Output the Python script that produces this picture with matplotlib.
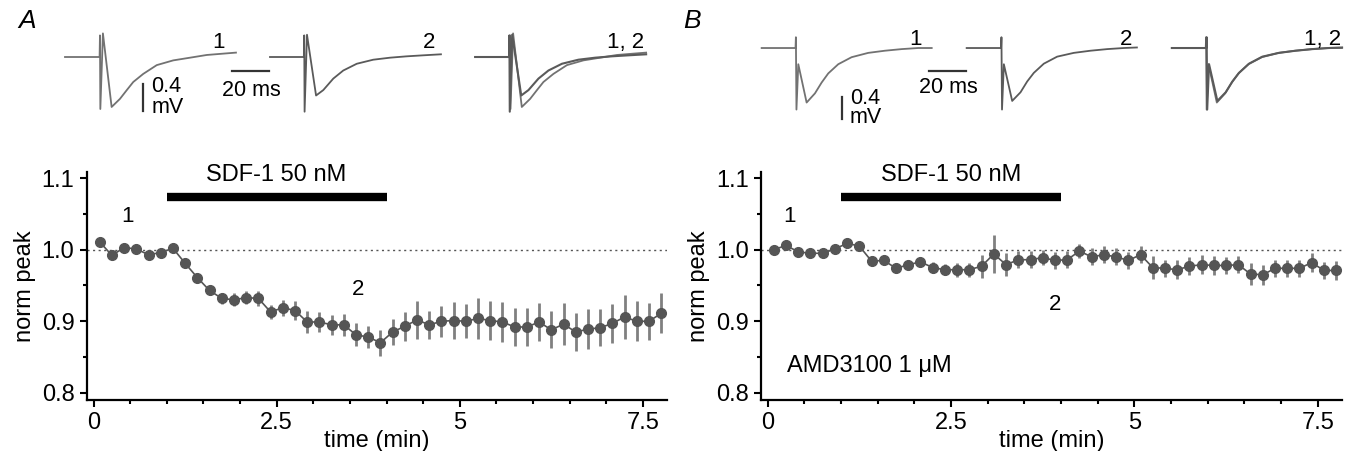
import numpy as np
import matplotlib.pyplot as plt

plt.rcParams['font.family'] = ['Liberation Sans', 'DejaVu Sans']

# time points (min), one sweep every 10 s
time_min = [(5 + 10 * i) / 60 for i in range(47)]

# panel A: SDF-1 alone
peak_a = [1.011, 0.992, 1.003, 1.001, 0.993, 0.996, 1.002, 0.981, 0.961, 0.943,
          0.932, 0.930, 0.933, 0.932, 0.913, 0.919, 0.915, 0.899, 0.899, 0.895,
          0.895, 0.881, 0.878, 0.870, 0.885, 0.893, 0.902, 0.895, 0.900, 0.901,
          0.900, 0.904, 0.901, 0.899, 0.892, 0.892, 0.899, 0.888, 0.896, 0.885,
          0.889, 0.891, 0.897, 0.906, 0.900, 0.900, 0.911]
err_a = [0.003, 0.003, 0.003, 0.003, 0.003, 0.003, 0.003, 0.004, 0.005, 0.006,
         0.008, 0.009, 0.009, 0.010, 0.010, 0.011, 0.013, 0.015, 0.014, 0.014,
         0.015, 0.016, 0.016, 0.018, 0.018, 0.020, 0.027, 0.020, 0.022, 0.026,
         0.024, 0.029, 0.027, 0.028, 0.027, 0.027, 0.027, 0.026, 0.029, 0.026,
         0.028, 0.026, 0.027, 0.031, 0.028, 0.026, 0.028]

# panel B: SDF-1 in AMD3100
peak_b = [1.000, 1.006, 0.997, 0.995, 0.995, 1.001, 1.009, 1.005, 0.984, 0.985,
          0.974, 0.979, 0.983, 0.975, 0.972, 0.972, 0.972, 0.977, 0.994, 0.979,
          0.986, 0.986, 0.989, 0.985, 0.986, 0.998, 0.990, 0.993, 0.990, 0.985,
          0.993, 0.975, 0.974, 0.972, 0.977, 0.979, 0.978, 0.978, 0.979, 0.966,
          0.965, 0.974, 0.974, 0.974, 0.982, 0.971, 0.971]
err_b = [0.003, 0.003, 0.003, 0.003, 0.003, 0.003, 0.003, 0.003, 0.006, 0.006,
         0.005, 0.006, 0.006, 0.008, 0.008, 0.010, 0.010, 0.016, 0.026, 0.016,
         0.012, 0.012, 0.011, 0.012, 0.012, 0.010, 0.012, 0.012, 0.012, 0.012,
         0.012, 0.016, 0.012, 0.013, 0.013, 0.013, 0.013, 0.012, 0.012, 0.015,
         0.014, 0.012, 0.012, 0.012, 0.013, 0.012, 0.013]

# example EPSP traces (ms, mV), key points
trace_a1_t = [0, 18.7, 18.9, 19.1, 20.5, 25.2, 29.7, 33.4, 36.9, 42.3, 49.6,
              58.5, 67.6, 76.6, 85.6, 92.4]
trace_a1_v = [0, 0, 0.32, -0.77, 0.35, -0.74, -0.62, -0.49, -0.37, -0.25, -0.12,
              -0.05, -0.01, 0.03, 0.05, 0.065]
trace_a2_t = [0, 18.3, 18.5, 18.7, 20.0, 24.9, 28.8, 34.2, 39.6, 46.9, 55.8,
              64.9, 73.9, 82.9, 92.4]
trace_a2_v = [0, 0, 0.32, -0.81, 0.33, -0.57, -0.49, -0.32, -0.20, -0.10, -0.04,
              -0.01, 0.01, 0.025, 0.04]
trace_b1_t = [0, 18.3, 18.5, 18.8, 19.8, 24.3, 28.8, 32.4, 36.0, 41.4, 48.6,
              57.6, 66.6, 75.7, 84.6, 91.9]
trace_b1_v = [0, 0, 0.2, -1.14, -0.30, -1.01, -0.84, -0.64, -0.47, -0.30, -0.17,
              -0.09, -0.05, -0.02, 0.0, 0.0]
trace_b2_t = [0, 18.6, 18.8, 19.1, 20.1, 24.6, 29.1, 32.7, 36.3, 41.7, 48.9,
              57.9, 66.9, 76.0, 84.9, 92.0]
trace_b2_v = [0, 0, 0.2, -1.14, -0.30, -0.98, -0.82, -0.62, -0.46, -0.29, -0.16,
              -0.09, -0.05, -0.02, 0.0, 0.01]

bar_start, bar_end = 1.0, 4.0
fs = 17

fig = plt.figure(figsize=(13.53, 4.51), dpi=100)


def time_course(ax, peak, err, lab1, lab2):
    ax.axhline(1.0, color='#555555', ls=(0, (1.5, 2.5)), lw=1)
    ax.errorbar(time_min, peak, yerr=err, fmt='-o', color='#555555', ms=7,
                lw=1.2, ecolor='#808080', elinewidth=2, capsize=0, zorder=3)
    ax.plot([bar_start, bar_end], [1.074, 1.074], color='black', lw=6,
            solid_capstyle='butt')
    ax.text((bar_start + bar_end) / 2, 1.104, 'SDF-1 50 nM', ha='center', va='center', fontsize=fs)
    ax.text(lab1[0], lab1[1], '1', ha='center', va='center', fontsize=fs - 1)
    ax.text(lab2[0], lab2[1], '2', ha='center', va='center', fontsize=fs - 1)
    ax.set_xlim(-0.09, 7.83)
    ax.set_ylim(0.79, 1.109)
    ax.set_xticks([0, 2.5, 5, 7.5])
    ax.set_xticklabels(['0', '2.5', '5', '7.5'])
    ax.set_xticks(np.arange(0.5, 7.6, 0.5), minor=True)
    ax.set_yticks([0.8, 0.9, 1.0, 1.1])
    ax.set_yticks([0.85, 0.95, 1.05], minor=True)
    for s in ['top', 'right']:
        ax.spines[s].set_visible(False)
    for s in ['left', 'bottom']:
        ax.spines[s].set_linewidth(1.6)
    ax.tick_params(which='major', length=5, width=1.5, labelsize=fs, pad=4)
    ax.tick_params(which='minor', length=3, width=1.5)
    ax.set_xlabel('time (min)', fontsize=fs, labelpad=-3)
    ax.set_ylabel('norm peak', fontsize=fs, labelpad=4)


def trace_panel(ax, t1, v1, t2, v2, lab_v):
    c1, c2 = '#727272', '#5a5a5a'
    ax.plot(t1, v1, color=c1, lw=1.3)
    ax.plot(np.array(t2) + 110.8, v2, color=c2, lw=1.3)
    ax.plot(np.array(t1) + 221.7, v1, color=c1, lw=1.3)
    ax.plot(np.array(t2) + 221.7, v2, color=c2, lw=1.5)
    ax.text(83, lab_v, '1', ha='center', va='center', fontsize=16)
    ax.text(197, lab_v, '2', ha='center', va='center', fontsize=16)
    ax.text(303, lab_v, '1, 2', ha='center', va='center', fontsize=16)
    ax.axis('off')


def scale_bars(ax, vt, v_top, v_txt1, v_txt2, ht, h_v, h_txt):
    # 0.4 mV and 20 ms bars
    ax.plot([vt, vt], [v_top, v_top - 0.4], color='#333333', lw=1.6)
    ax.text(vt + 4.5, v_txt1, '0.4', ha='left', va='center', fontsize=15.5)
    ax.text(vt + 4.5, v_txt2, 'mV', ha='left', va='center', fontsize=15.5)
    ax.plot([ht, ht + 20], [h_v, h_v], color='#333333', lw=1.6)
    ax.text(ht + 10.5, h_txt, '20 ms', ha='center', va='center', fontsize=15.5)


ax_a = fig.add_axes([0.0643, 0.1131, 0.4287, 0.5062])
time_course(ax_a, peak_a, err_a, (0.46, 1.047), (3.61, 0.945))
ax_b = fig.add_axes([0.5625, 0.1131, 0.4294, 0.5062])
time_course(ax_b, peak_b, err_b, (0.30, 1.047), (3.92, 0.924))
ax_b.text(0.27, 0.837, 'AMD3100 1 μM', ha='left', va='center', fontsize=fs)

tr_a = fig.add_axes([60 / 1353, 1 - 125 / 451, 600 / 1353, 105 / 451])
tr_a.set_xlim(-2.7, 321.6)
tr_a.set_ylim(-1.007, 0.548)
trace_panel(tr_a, trace_a1_t, trace_a1_v, trace_a2_t, trace_a2_v, 0.22)
scale_bars(tr_a, 42.2, -0.40, -0.44, -0.75, 90.3, -0.207, -0.50)

tr_b = fig.add_axes([755 / 1353, 1 - 125 / 451, 598 / 1353, 105 / 451])
tr_b.set_xlim(-3.6, 319.6)
tr_b.set_ylim(-1.426, 0.519)
trace_panel(tr_b, trace_b1_t, trace_b1_v, trace_b2_t, trace_b2_v, 0.15)
scale_bars(tr_b, 43.2, -0.91, -0.93, -1.29, 90.6, -0.42, -0.74)

fig.text(18 / 1353, 1 - 21 / 451, 'A', fontsize=19, style='italic', ha='left', va='center')
fig.text(683 / 1353, 1 - 21 / 451, 'B', fontsize=19, style='italic', ha='left', va='center')

fig.savefig('out.png', dpi=100)
